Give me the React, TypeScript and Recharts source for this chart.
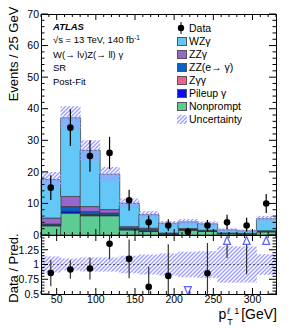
import React from 'react';
import { ComposedChart, Bar, Scatter, ErrorBar, XAxis, YAxis, ReferenceLine } from 'recharts';

// bins of pT(l1), 25 GeV wide
const binLabels = ['30-55', '55-80', '80-105', '105-130', '130-155', '155-180', '180-205', '205-230', '230-255', '255-280', '280-305', '305-330'];
const binCenters = [42.5, 67.5, 92.5, 117.5, 142.5, 167.5, 192.5, 217.5, 242.5, 267.5, 292.5, 317.5];

// post-fit predictions (stack order bottom -> top)
const nonprompt = [2.9, 6.9, 6.1, 6.1, 1.6, 1.1, 0.2, 1.5, 1.2, 0.4, 0.3, 1.0];
const pileup = [0.2, 0.5, 0.3, 0.2, 0.2, 0.2, 0.1, 0.2, 0.1, 0.05, 0.05, 0.1];
const zgg = [0.05, 0.1, 0.1, 0.05, 0.05, 0.05, 0.02, 0.05, 0.02, 0.02, 0.02, 0.05];
const zzeg = [0.3, 1.5, 0.9, 0.6, 0.4, 0.5, 0.2, 0.2, 0.1, 0.1, 0.1, 0.1];
const zzg = [1.9, 3.2, 1.6, 1.1, 0.4, 0.3, 0.1, 0.1, 0.1, 0.05, 0.05, 0.1];
const wzg = [12.2, 24.9, 17.8, 11.2, 7.4, 4.3, 3.1, 2.1, 2.0, 1.0, 0.8, 3.8];
const predUnc = [2.4, 3.7, 3.2, 2.3, 1.5, 1.1, 0.7, 0.9, 0.8, 0.5, 0.4, 0.9];

// observed data
const dataCounts = [15, 34, 25, 26, 11, 4, 3, 1, 3, 4, 3, 10];
const dataErrUp = [3.9, 5.8, 5.0, 5.1, 3.3, 2.2, 2.0, 1.3, 1.8, 2.4, 2.5, 3.0];
const dataErrDown = [3.9, 5.8, 5.0, 5.1, 3.3, 2.0, 1.7, 1.0, 1.7, 2.2, 1.9, 3.0];

// axis ticks
const xTicks = [30, 40, 50, 60, 70, 80, 90, 100, 110, 120, 130, 140, 150, 160, 170, 180, 190, 200, 210, 220, 230, 240, 250, 260, 270, 280, 290, 300, 310, 320, 330];
const xLabels = [50, 100, 150, 200, 250, 300];
const yMainTicks = [0, 2, 4, 6, 8, 10, 12, 14, 16, 18, 20, 22, 24, 26, 28, 30, 32, 34, 36, 38, 40, 42, 44, 46, 48, 50, 52, 54, 56, 58, 60, 62, 64, 66, 68, 70];
const yMainLabels = [0, 10, 20, 30, 40, 50, 60, 70];
const yRatioTicks = [0.5, 0.55, 0.6, 0.65, 0.7, 0.75, 0.8, 0.85, 0.9, 0.95, 1, 1.05, 1.1, 1.15, 1.2, 1.25, 1.3, 1.35, 1.4, 1.45, 1.5];
const yRatioMajor = [0.5, 0.75, 1, 1.25, 1.5];
const yRatioLabels = [0.5, 0.75, 1, 1.25];

const COLORS = {
  wzg: '#63c8f8',
  zzg: '#9966cc',
  zzeg: '#0a62c8',
  zgg: '#f2608e',
  pileup: '#0b0bf0',
  nonprompt: '#5ccc94',
};
const FONT = "'Liberation Sans', Arial, Helvetica, sans-serif";
const HATCH = '#9d9dff';

// plot frame (page pixels)
const PL = 41;
const PR = 276;
const MAIN_TOP = 14;
const MAIN_BOTTOM = 235;
const RATIO_H = 59;
const MAIN_SVG_H = 244;

const has = (list: number[], v: number) => list.some((l) => Math.abs(l - v) < 1e-6);

const rows = binLabels.map((bin, i) => {
  const total = nonprompt[i] + pileup[i] + zgg[i] + zzeg[i] + zzg[i] + wzg[i];
  return {
    bin,
    x: binCenters[i],
    nonprompt: nonprompt[i],
    pileup: pileup[i],
    zgg: zgg[i],
    zzeg: zzeg[i],
    zzg: zzg[i],
    wzg: wzg[i],
    total,
    band: [total - predUnc[i], total + predUnc[i]],
    data: dataCounts[i],
    dataErr: [dataErrDown[i], dataErrUp[i]],
  };
});

const ratioRows = rows.map((r, i) => {
  const ratio = r.data / r.total;
  const lo = (r.data - dataErrDown[i]) / r.total;
  const hi = (r.data + dataErrUp[i]) / r.total;
  const rel = predUnc[i] / r.total;
  const state = ratio > 1.5 ? 'up' : ratio < 0.5 ? 'down' : 'in';
  const py = state === 'up' ? 1.4 : state === 'down' ? 0.567 : ratio;
  let lowEnd = Math.max(0.5, Math.min(lo, py));
  let highEnd = Math.min(1.5, Math.max(hi, py));
  if (state === 'up') highEnd = py;
  if (state === 'down') lowEnd = py;
  return {
    bin: r.bin,
    x: r.x,
    ratio: py,
    state,
    band: [1 - rel, 1 + rel],
    err: [py - lowEnd, highEnd - py],
  };
});

// x ticks: inward on bottom and top of the frame
const renderXTick = (p: any, top: number, bottom: number, showLabel: boolean) => {
  const { x, payload } = p;
  const v = payload.value;
  const major = v % 50 === 0;
  const len = major ? 6 : 3;
  return (
    <g>
      <line x1={x} y1={bottom} x2={x} y2={bottom - len} stroke="#000" strokeWidth={1} />
      <line x1={x} y1={top} x2={x} y2={top + len} stroke="#000" strokeWidth={1} />
      {showLabel && has(xLabels, v) && (
        <text x={x} y={bottom + 2} dy="0.71em" textAnchor="middle" fontSize={10.5} fontFamily={FONT} fill="#000">
          {v}
        </text>
      )}
    </g>
  );
};

const renderYTick = (p: any, majors: number[], labels: number[]) => {
  const { y, payload } = p;
  const x = PL;
  const v = payload.value;
  const len = has(majors, v) ? 7 : 3.5;
  return (
    <g>
      <line x1={x} y1={y} x2={x + len} y2={y} stroke="#000" strokeWidth={1} />
      <line x1={PR} y1={y} x2={PR - len} y2={y} stroke="#000" strokeWidth={1} />
      {has(labels, v) && (
        <text x={x - 2} y={y} dy="0.36em" textAnchor="end" fontSize={10.5} fontFamily={FONT} fill="#000">
          {String(v)}
        </text>
      )}
    </g>
  );
};

const DataDot = (p: any) => <circle cx={p.cx} cy={p.cy} r={3.3} fill="#000" />;

const RatioMarker = (p: any) => {
  const { cx, cy, payload } = p;
  if (payload.state === 'up') {
    return <path d={`M${cx},${cy - 4.5} L${cx + 3.5},${cy + 3.5} L${cx - 3.5},${cy + 3.5} Z`} fill="#fff" stroke="#6060ff" strokeWidth={1.2} />;
  }
  if (payload.state === 'down') {
    return <path d={`M${cx},${cy + 4.5} L${cx + 3.5},${cy - 3.5} L${cx - 3.5},${cy - 3.5} Z`} fill="#fff" stroke="#6060ff" strokeWidth={1.2} />;
  }
  return <circle cx={cx} cy={cy} r={3.3} fill="#000" />;
};

const legendItems = [
  { label: 'WZγ', color: COLORS.wzg },
  { label: 'ZZγ', color: COLORS.zzg },
  { label: 'ZZ(e→ γ)', color: COLORS.zzeg },
  { label: 'Zγγ', color: COLORS.zgg },
  { label: 'Pileup γ', color: COLORS.pileup },
  { label: 'Nonprompt', color: COLORS.nonprompt },
];

const Legend = () => {
  const x0 = 177;
  const y0 = 28.3;
  const step = 13;
  const text = { position: 'absolute' as const, left: 189, fontSize: 10.5, lineHeight: '12px', whiteSpace: 'nowrap' as const };
  return (
    <>
      <svg style={{ position: 'absolute', left: x0, top: y0 - 6 }} width={10} height={12}>
        <line x1={4} y1={0} x2={4} y2={12} stroke="#000" strokeWidth={1} />
        <circle cx={4} cy={6} r={3.2} fill="#000" />
      </svg>
      <div style={{ ...text, top: y0 - 6 }}>Data</div>
      {legendItems.map((it, i) => {
        const cy = y0 + step * (i + 1);
        return (
          <React.Fragment key={it.label}>
            <div style={{ position: 'absolute', left: x0, top: cy - 4.5, width: 10, height: 9, background: it.color, border: '1px solid #555', boxSizing: 'border-box' }} />
            <div style={{ ...text, top: cy - 6 }}>{it.label}</div>
          </React.Fragment>
        );
      })}
      <svg style={{ position: 'absolute', left: x0, top: y0 + step * 7 - 4.5 }} width={10} height={9}>
        <rect x={0} y={0} width={10} height={9} fill="url(#hatch)" />
      </svg>
      <div style={{ ...text, top: y0 + step * 7 - 6 }}>Uncertainty</div>
    </>
  );
};

const Labels = () => {
  const base = { position: 'absolute' as const, left: 53, fontSize: 9.5, lineHeight: '12px', whiteSpace: 'nowrap' as const };
  return (
    <>
      <div style={{ ...base, top: 20.5, fontWeight: 'bold', fontStyle: 'italic' }}>ATLAS</div>
      <div style={{ ...base, top: 34 }}>
        √s = 13 TeV, 140 fb<sup style={{ fontSize: 6.5, verticalAlign: 'top', position: 'relative', top: -2 }}>-1</sup>
      </div>
      <div style={{ ...base, top: 49 }}>W(→ lν)Z(→ ll) γ</div>
      <div style={{ ...base, top: 62 }}>SR</div>
      <div style={{ ...base, top: 76 }}>Post-Fit</div>
    </>
  );
};

export default function App() {
  return (
    <div style={{ position: 'absolute', left: 0, top: 0, width: 291, height: 328, background: '#fff', fontFamily: FONT, color: '#000', overflow: 'hidden' }}>
      <svg width={0} height={0} style={{ position: 'absolute' }}>
        <defs>
          <pattern id="hatch" patternUnits="userSpaceOnUse" width={4} height={4}>
            <path d="M-1,1 L1,-1 M0,4 L4,0 M3,5 L5,3" stroke={HATCH} strokeWidth={1.4} />
          </pattern>
        </defs>
      </svg>

      <div style={{ position: 'absolute', left: 0, top: MAIN_BOTTOM }}>
        <ComposedChart width={291} height={328 - MAIN_BOTTOM} data={ratioRows} margin={{ top: 0, right: 291 - PR, bottom: 0, left: 0 }} barCategoryGap={0} barGap={0}>
          <XAxis xAxisId="cat" dataKey="bin" type="category" hide />
          <XAxis
            xAxisId="num"
            dataKey="x"
            type="number"
            domain={[30, 330]}
            ticks={xTicks}
            interval={0}
            height={328 - MAIN_BOTTOM - RATIO_H}
            tickSize={0}
            tickMargin={0}
            axisLine={false}
            tickLine={false}
            allowDataOverflow
            tick={(p: any) => renderXTick(p, 0, RATIO_H, true)}
          />
          <YAxis
            yAxisId="r"
            type="number"
            domain={[0.5, 1.5]}
            ticks={yRatioTicks}
            interval={0}
            width={PL}
            tickSize={0}
            tickMargin={0}
            axisLine={false}
            tickLine={false}
            allowDataOverflow
            tick={(p: any) => renderYTick(p, yRatioMajor, yRatioLabels)}
          />
          <Bar xAxisId="cat" yAxisId="r" dataKey="band" fill="url(#hatch)" isAnimationActive={false} />
          <ReferenceLine xAxisId="num" yAxisId="r" y={1} stroke="#5a5a88" strokeDasharray="2 2" strokeWidth={1} />
          <Scatter xAxisId="num" yAxisId="r" dataKey="ratio" fill="#000" shape={RatioMarker} isAnimationActive={false}>
            <ErrorBar dataKey="err" direction="y" width={0} stroke="#333" strokeWidth={1.2} />
          </Scatter>
        </ComposedChart>
      </div>

      <div style={{ position: 'absolute', left: 0, top: 0 }}>
        <ComposedChart width={291} height={MAIN_SVG_H} data={rows} margin={{ top: MAIN_TOP, right: 291 - PR, bottom: 0, left: 0 }} barCategoryGap={0} barGap={0}>
          <XAxis xAxisId="cat" dataKey="bin" type="category" hide />
          <XAxis xAxisId="band" dataKey="bin" type="category" hide />
          <XAxis
            xAxisId="num"
            dataKey="x"
            type="number"
            domain={[30, 330]}
            ticks={xTicks}
            interval={0}
            height={MAIN_SVG_H - MAIN_BOTTOM}
            tickSize={0}
            tickMargin={0}
            axisLine={false}
            tickLine={false}
            allowDataOverflow
            tick={(p: any) => renderXTick(p, MAIN_TOP, MAIN_BOTTOM, false)}
          />
          <YAxis
            yAxisId="l"
            type="number"
            domain={[0, 70]}
            ticks={yMainTicks}
            interval={0}
            width={PL}
            tickSize={0}
            tickMargin={0}
            axisLine={false}
            tickLine={false}
            allowDataOverflow
            tick={(p: any) => renderYTick(p, yMainLabels, yMainLabels)}
          />
          <Bar xAxisId="cat" yAxisId="l" stackId="s" dataKey="nonprompt" fill={COLORS.nonprompt} stroke="#333" strokeWidth={0.7} isAnimationActive={false} />
          <Bar xAxisId="cat" yAxisId="l" stackId="s" dataKey="pileup" fill={COLORS.pileup} stroke="#333" strokeWidth={0.7} isAnimationActive={false} />
          <Bar xAxisId="cat" yAxisId="l" stackId="s" dataKey="zgg" fill={COLORS.zgg} stroke="#333" strokeWidth={0.7} isAnimationActive={false} />
          <Bar xAxisId="cat" yAxisId="l" stackId="s" dataKey="zzeg" fill={COLORS.zzeg} stroke="#333" strokeWidth={0.7} isAnimationActive={false} />
          <Bar xAxisId="cat" yAxisId="l" stackId="s" dataKey="zzg" fill={COLORS.zzg} stroke="#333" strokeWidth={0.7} isAnimationActive={false} />
          <Bar xAxisId="cat" yAxisId="l" stackId="s" dataKey="wzg" fill={COLORS.wzg} stroke="#444" strokeWidth={0.8} isAnimationActive={false} />
          <Bar xAxisId="band" yAxisId="l" dataKey="band" fill="url(#hatch)" stroke="none" isAnimationActive={false} />
          <Scatter xAxisId="num" yAxisId="l" dataKey="data" fill="#000" shape={DataDot} isAnimationActive={false}>
            <ErrorBar dataKey="dataErr" direction="y" width={0} stroke="#000" strokeWidth={1.2} />
          </Scatter>
        </ComposedChart>
      </div>

      {/* frames */}
      <div style={{ position: 'absolute', left: PL, top: MAIN_TOP, width: PR - PL + 1, height: MAIN_BOTTOM - MAIN_TOP + 1, border: '1px solid #000', boxSizing: 'border-box', pointerEvents: 'none' }} />
      <div style={{ position: 'absolute', left: PL, top: MAIN_BOTTOM, width: PR - PL + 1, height: RATIO_H + 1, border: '1px solid #000', boxSizing: 'border-box', pointerEvents: 'none' }} />

      <Labels />
      <Legend />

      {/* axis titles */}
      <div style={{ position: 'absolute', left: 13, top: 54, transform: 'translate(-50%, -50%) rotate(-90deg)', fontSize: 13, whiteSpace: 'nowrap' }}>Events / 25 GeV</div>
      <div style={{ position: 'absolute', left: 13, top: 268, transform: 'translate(-50%, -50%) rotate(-90deg)', fontSize: 13, whiteSpace: 'nowrap' }}>Data / Pred.</div>
      <div style={{ position: 'absolute', right: 291 - PR - 1, top: 306, fontSize: 14, lineHeight: '16px', whiteSpace: 'nowrap' }}>
        p
        <span style={{ position: 'relative', display: 'inline-block', width: 15, height: 10 }}>
          <span style={{ position: 'absolute', left: 1, top: -6, fontSize: 9, fontStyle: 'italic' }}>ℓ</span>
          <span style={{ position: 'absolute', left: 8, top: -6, fontSize: 9 }}>1</span>
          <span style={{ position: 'absolute', left: 1, top: 5, fontSize: 9 }}>T</span>
        </span>
        [GeV]
      </div>
    </div>
  );
}
